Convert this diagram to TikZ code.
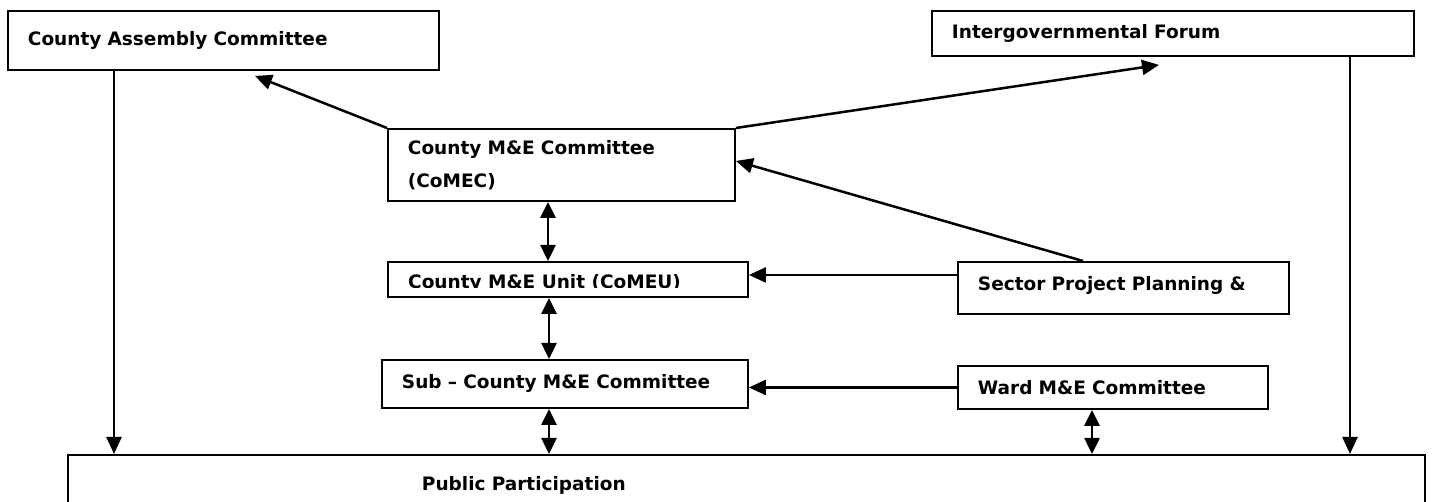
\documentclass[tikz,border=0pt]{standalone}
\usepackage{fontspec}
\setmainfont{DejaVu Sans}
\usetikzlibrary{arrows.meta}

\begin{document}
\begin{tikzpicture}[x=1pt,y=-1pt,
  box/.style={draw,line width=1.9pt,anchor=north west,inner xsep=20pt,inner ysep=0pt,
    align=left,font=\bfseries\fontsize{18.5}{33}\selectfont},
  lab/.style={inner sep=0pt,font=\bfseries\fontsize{18.5}{33}\selectfont},
  flow/.style={line width=2.5pt,-{Triangle[length=17pt,width=15pt]}},
  both/.style={line width=2.5pt,{Triangle[length=16pt,width=15pt]}-{Triangle[length=16pt,width=15pt]}}]
\clip (0,0) rectangle (1452,502);

% top row
\node[box,text width=391pt,minimum height=59pt] (cac) at (7,10) {County Assembly Committee};
\node[box,text width=442pt,minimum height=45pt] (igf) at (931,10) {Intergovernmental Forum};

% county column
\node[box,text width=307pt,minimum height=72pt] (comec) at (387,128) {County M\&E Committee\\(CoMEC)};
\node[box,text width=320pt,minimum height=35pt] (comeu) at (387,261) {};
\begin{scope}
  \clip (387,261) rectangle (747,288);
  \node[lab,anchor=base west] (comeutxt) at (408,289) {County M\&E Unit (CoMEU)};
\end{scope}
\node[box,text width=326pt,minimum height=48pt] (sub) at (381,359) {Sub – County M\&E Committee};

% right side
\node[box,text width=291pt,minimum height=52pt,text depth=8pt] (sector) at (957,261) {Sector Project Planning \&};
\node[box,text width=270pt,minimum height=43pt] (ward) at (957,365) {Ward M\&E Committee};

% bottom
\node[box,inner xsep=354pt,text width=649pt,minimum height=61pt] (pub) at (67,454) {Public Participation};

% arrow ends
\coordinate (cacin) at ([xshift=248pt,yshift=-5pt]cac.south west);
\coordinate (igfin) at ([xshift=228pt,yshift=-8pt]igf.south west);
\coordinate (cacdrop) at ([xshift=107pt]cac.south west);
\coordinate (igfdrop) at ([xshift=419pt]igf.south west);
\coordinate (secout) at ([xshift=126pt]sector.north west);
\coordinate (comecin) at ([yshift=4pt]comec.east);
\coordinate (secleft) at ([yshift=13pt]sector.west);
\coordinate (spine1) at ([xshift=161pt]comec.south west);
\coordinate (spine2) at ([xshift=162pt]comeu.south west);
\coordinate (spine3) at ([xshift=168pt]sub.south west);
\coordinate (wardup) at ([xshift=135pt]ward.south west);

\draw[flow] (cacdrop) -- (cacdrop |- pub.north);
\draw[flow] (igfdrop) -- (igfdrop |- pub.north);
\draw[flow] (comec.north west) -- (cacin);
\draw[flow] (comec.north east) -- (igfin);
\draw[flow] (secout) -- (comecin);
\draw[flow] (secleft) -- (secleft -| comeu.east);
\draw[flow] (ward.west) -- (ward.west -| sub.east);
\draw[both] (spine1) -- (spine1 |- comeu.north);
\draw[both] (spine2) -- (spine2 |- sub.north);
\draw[both] (spine3) -- (spine3 |- pub.north);
\draw[both] (wardup) -- (wardup |- pub.north);
\end{tikzpicture}
\end{document}
